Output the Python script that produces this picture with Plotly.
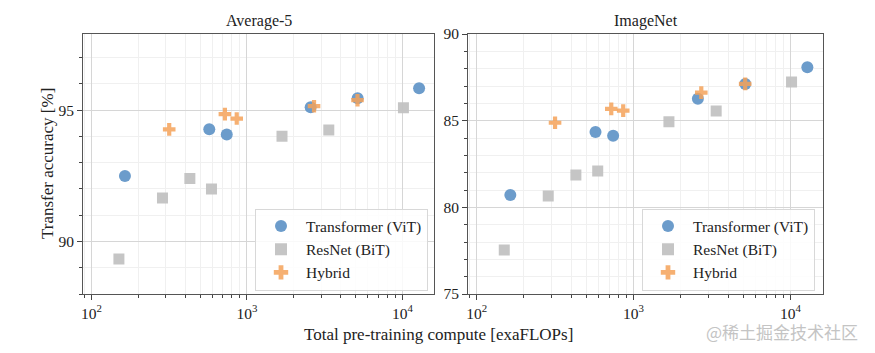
import plotly.graph_objects as go

# ---- data ----
vit_x = [164, 572, 741, 2568, 5150, 12800]
resnet_x = [150, 286, 429, 591, 1680, 3360, 10150]
hybrid_x = [316, 721, 859, 2700, 5140]

avg5_vit = [92.49, 94.27, 94.07, 95.11, 95.45, 95.83]
avg5_resnet = [89.33, 91.66, 92.40, 92.00, 94.01, 94.24, 95.09]
avg5_hybrid = [94.27, 94.85, 94.68, 95.15, 95.38]

imnet_vit = [80.71, 84.35, 84.13, 86.27, 87.12, 88.08]
imnet_resnet = [77.54, 80.65, 81.87, 82.10, 84.94, 85.56, 87.23]
imnet_hybrid = [84.88, 85.68, 85.58, 86.62, 87.12]

series_names = ["Transformer (ViT)", "ResNet (BiT)", "Hybrid"]
panel_titles = ["Average-5", "ImageNet"]
x_tickvals = [100, 1000, 10000]
x_ticktext = ["10<sup>2</sup>", "10<sup>3</sup>", "10<sup>4</sup>"]
x_minor = [m * d for d in (10, 100, 1000, 10000) for m in range(2, 10)]

W, H = 875, 353
FONT = "Liberation Serif"
C_VIT = "#6497c8"
C_RES = "#c2c2c2"
C_HYB = "#f4a259"

fig = go.Figure()

panels = [
    (avg5_vit, avg5_resnet, avg5_hybrid, "x", "y", "legend"),
    (imnet_vit, imnet_resnet, imnet_hybrid, "x2", "y2", "legend2"),
]
for vy, ry, hy, xa, ya, lg in panels:
    fig.add_trace(go.Scatter(x=vit_x, y=vy, mode="markers", name=series_names[0],
                             xaxis=xa, yaxis=ya, legend=lg,
                             marker=dict(symbol="circle", size=12, color=C_VIT, opacity=0.95)))
    fig.add_trace(go.Scatter(x=resnet_x, y=ry, mode="markers", name=series_names[1],
                             xaxis=xa, yaxis=ya, legend=lg,
                             marker=dict(symbol="square", size=11, color=C_RES, opacity=0.95)))
    fig.add_trace(go.Scatter(x=hybrid_x, y=hy, mode="markers", name=series_names[2],
                             xaxis=xa, yaxis=ya, legend=lg,
                             marker=dict(symbol="cross", size=10.5, color=C_HYB, opacity=0.85)))

def px_x(p):
    return p / W

def px_y(p):
    return 1 - p / H

common_x = dict(
    type="log", range=[1.947, 4.205], automargin=False,
    tickmode="array", tickvals=x_tickvals, ticktext=x_ticktext,
    ticks="outside", ticklen=5, tickcolor="#444",
    showline=True, linecolor="#555", linewidth=1.2, mirror=True,
    showgrid=True, gridcolor="#d6d6d6", gridwidth=1,
    minor=dict(tickmode="array", tickvals=x_minor, ticks="outside", ticklen=3,
               tickcolor="#444", showgrid=True, gridcolor="#f0f0f0", gridwidth=1),
    zeroline=False,
    tickfont=dict(family=FONT, size=15.5, color="#222"),
)
common_y = dict(
    automargin=False,
    ticks="outside", ticklen=5, tickcolor="#444",
    showline=True, linecolor="#555", linewidth=1.2, mirror=True,
    showgrid=True, gridcolor="#d6d6d6", gridwidth=1,
    minor=dict(dtick=1, ticks="outside", ticklen=3, tickcolor="#444",
               showgrid=True, gridcolor="#f0f0f0", gridwidth=1),
    zeroline=False,
    tickfont=dict(family=FONT, size=15.5, color="#222"),
)

ydom = [px_y(294), px_y(34)]

legend_common = dict(
    bgcolor="rgba(255,255,255,0.85)", bordercolor="#d8d8d8", borderwidth=1,
    font=dict(family=FONT, size=15.5, color="#222"),
    xanchor="right", yanchor="bottom", tracegroupgap=0,
    itemsizing="constant", itemwidth=40,
)

def label(text, x, y, size=16, angle=0, family=FONT, color="#222"):
    return dict(text=text, x=px_x(x), y=px_y(y), xref="paper", yref="paper",
                xanchor="center", yanchor="middle", showarrow=False, textangle=angle,
                font=dict(family=family, size=size, color=color))

fig.update_layout(
    width=W, height=H,
    margin=dict(l=0, r=0, t=0, b=0, pad=0, autoexpand=False),
    paper_bgcolor="white", plot_bgcolor="white",
    font=dict(family=FONT, color="#222"),
    xaxis=dict(domain=[px_x(83.3), px_x(434.3)], anchor="y", **common_x),
    yaxis=dict(domain=ydom, anchor="x", range=[88.0, 97.9], tickvals=[90, 95], **common_y),
    xaxis2=dict(domain=[px_x(468.3), px_x(822.7)], anchor="y2", **common_x),
    yaxis2=dict(domain=ydom, anchor="x2", range=[75, 90], tickvals=[75, 80, 85, 90], **common_y),
    legend=dict(x=px_x(428), y=px_y(290.5), **legend_common),
    legend2=dict(x=px_x(815), y=px_y(290.5), **legend_common),
    annotations=[
        label(panel_titles[0], 258.8, 21, size=16),
        label(panel_titles[1], 645.5, 21, size=16),
        label("Transfer accuracy [%]", 47, 164, size=17, angle=-90),
        label("Total pre-training compute [exaFLOPs]", 438, 334, size=17),
        label("@稀土掘金技术社区", 782, 331, size=17, family="Noto Sans CJK SC", color="#c4c4c4"),
    ],
)

fig.write_html("out.html")
